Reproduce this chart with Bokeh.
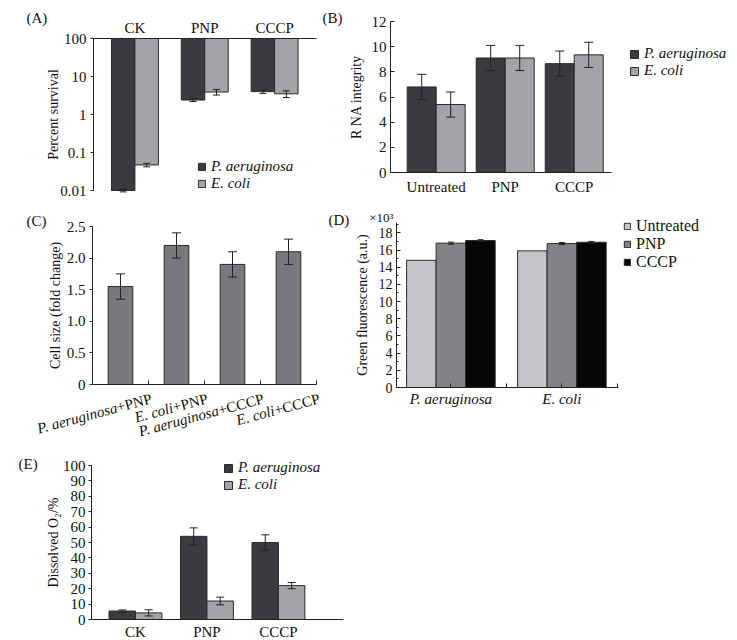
import math
from bokeh.plotting import figure
from bokeh.models import (ColumnDataSource, Whisker, TeeHead, Legend, LegendItem, Label,
                          FixedTicker, Range1d)
from bokeh.layouts import column, row
from bokeh.transform import dodge
from bokeh.embed import file_html
from bokeh.resources import INLINE

FONT = "Liberation Serif"

# ---------------- data ----------------
species = ["P. aeruginosa", "E. coli"]

# (A) percent survival (log)
a_groups = ["CK", "PNP", "CCCP"]
a_pae = [0.010, 2.4, 4.0]
a_pae_err = [0.0008, 0.2, 0.4]
a_eco = [0.047, 3.9, 3.5]
a_eco_err = [0.005, 0.65, 0.7]
a_ticks = [0.01, 0.1, 1, 10, 100]
a_tick_labels = ["0.01", "0.1", "1", "10", "100"]

# (B) RNA integrity
b_groups = ["Untreated", "PNP", "CCCP"]
b_pae = [6.8, 9.1, 8.65]
b_pae_err = [1.0, 1.0, 1.0]
b_eco = [5.4, 9.1, 9.35]
b_eco_err = [1.0, 1.0, 1.0]
b_ticks = [0, 2, 4, 6, 8, 10, 12]

# (C) cell size
c_species = ["P. aeruginosa", "E. coli", "P. aeruginosa", "E. coli"]
c_treat = ["+PNP", "+PNP", "+CCCP", "+CCCP"]
c_vals = [1.55, 2.2, 1.9, 2.1]
c_err = [0.2, 0.2, 0.2, 0.2]
c_ticks = [0, 0.5, 1.0, 1.5, 2.0, 2.5]
c_tick_labels = ["0", "0.5", "1.0", "1.5", "2.0", "2.5"]

# (D) green fluorescence (x10^3)
d_groups = ["P. aeruginosa", "E. coli"]
d_treat = ["Untreated", "PNP", "CCCP"]
d_untreated = [14.8, 15.9]
d_pnp = [16.8, 16.75]
d_pnp_err = [0.12, 0.12]
d_cccp = [17.1, 16.9]
d_cccp_err = [0.1, 0.1]
d_ticks = [0, 2, 4, 6, 8, 10, 12, 14, 16, 18]
d_minor = [1, 3, 5, 7, 9, 11, 13, 15, 17, 19]
d_top = 19.2

# (E) dissolved O2
e_groups = ["CK", "PNP", "CCCP"]
e_pae = [5.5, 54.0, 50.0]
e_pae_err = [0.7, 5.5, 5.0]
e_eco = [4.3, 12.0, 22.0]
e_eco_err = [2.0, 2.5, 2.0]
e_ticks = list(range(0, 101, 10))

# ---------------- style ----------------
DARK = "#3b3b3f"
LIGHT = "#a4a4a8"
EDGE = "#2a2a2a"
INK = "#111111"


def ext(lo, hi, a, b, total, log=False):
    """Extend a data interval [lo, hi] drawn between pixels a..b to the full 0..total."""
    if log:
        lo, hi = math.log10(lo), math.log10(hi)
    s = (hi - lo) / (b - a)
    start, end = lo - a * s, hi + (total - b) * s
    if log:
        return 10 ** start, 10 ** end
    return start, end


def make_fig(w, h, box, xlim, ylim, ytype="linear", xloc="below"):
    """box = (left, top, right, bottom) of the axis box in figure pixels."""
    l, t, r, b = box
    xs, xe = ext(xlim[0], xlim[1], l, r, w)
    ys, ye = ext(ylim[0], ylim[1], h - b, h - t, h, ytype == "log")
    p = figure(width=w, height=h, x_range=Range1d(xs, xe), y_range=Range1d(ys, ye),
               y_axis_type=ytype, x_axis_location=xloc, output_backend="svg",
               toolbar_location=None, min_border=0, min_border_left=0,
               min_border_right=0, min_border_top=0, min_border_bottom=0)
    p.outline_line_color = None
    p.xgrid.visible = False
    p.ygrid.visible = False
    for ax in p.axis:
        ax.major_label_text_font = FONT
        ax.major_label_text_font_size = "15px"
        ax.major_label_text_color = INK
        ax.axis_label_text_font = FONT
        ax.axis_label_text_font_size = "14px"
        ax.axis_label_text_font_style = "normal"
        ax.axis_label_text_color = INK
        ax.axis_line_color = "#222222"
        ax.major_tick_line_color = "#222222"
        ax.minor_tick_line_color = "#222222"
        ax.minor_tick_out = 0
        ax.minor_tick_in = 0
    p.xaxis.fixed_location = ylim[1] if xloc == "above" else ylim[0]
    p.xaxis.bounds = (xlim[0], xlim[1])
    p.yaxis.fixed_location = xlim[0]
    p.yaxis.bounds = (ylim[0], ylim[1])
    return p


def whisk(p, src, base, lo, hi, size=8):
    w = Whisker(source=src, base=base, lower=lo, upper=hi, line_color="#222222",
                line_width=1, level="overlay",
                lower_head=TeeHead(size=size, line_color="#222222", line_width=1),
                upper_head=TeeHead(size=size, line_color="#222222", line_width=1))
    p.add_layout(w)


def legend(p, renderers, labels, loc, gw, gh, lh, size, style):
    items = [LegendItem(label=lab, renderers=[r]) for lab, r in zip(labels, renderers)]
    lg = Legend(items=items, location=loc, orientation="vertical", glyph_width=gw,
                glyph_height=gh, label_height=lh, label_width=10, spacing=0, padding=0,
                margin=0, border_line_color=None, background_fill_alpha=0,
                label_text_font=FONT, label_text_font_size=size,
                label_text_font_style=style, label_standoff=5, label_text_color=INK)
    p.add_layout(lg)


def panel_label(p, text, x, y, dx, dy):
    p.add_layout(Label(x=x, y=y, x_offset=dx, y_offset=dy, text=text,
                       text_font=FONT, text_font_size="15px", text_align="left",
                       text_baseline="middle", text_color=INK))


def err_cols(prefix, vals, errs):
    return {prefix + "_lo": [v - e for v, e in zip(vals, errs)],
            prefix + "_hi": [v + e for v, e in zip(vals, errs)]}


# ---------------- (A) ----------------
axl = (-0.593, 2.6)
ayl = (a_ticks[0], a_ticks[-1])
pA = make_fig(318, 208, (93, 38, 316, 190), axl, ayl, "log", "above")
srcA = ColumnDataSource(dict(x=list(range(len(a_groups))),
                             top=[a_ticks[-1]] * len(a_groups), pae=a_pae, eco=a_eco,
                             **err_cols("pae", a_pae, a_pae_err),
                             **err_cols("eco", a_eco, a_eco_err)))
bwA = 0.336
rA1 = pA.vbar(x=dodge("x", -bwA / 2), width=bwA, top="top", bottom="pae", source=srcA,
              fill_color=DARK, line_color=EDGE)
rA2 = pA.vbar(x=dodge("x", bwA / 2), width=bwA, top="top", bottom="eco", source=srcA,
              fill_color=LIGHT, line_color=EDGE)
whisk(pA, srcA, dodge("x", -bwA / 2), "pae_lo", "pae_hi", 7)
whisk(pA, srcA, dodge("x", bwA / 2), "eco_lo", "eco_hi", 7)
pA.xaxis.ticker = FixedTicker(ticks=list(range(len(a_groups))))
pA.xaxis.major_label_overrides = {i: g for i, g in enumerate(a_groups)}
pA.xaxis.major_tick_out = 0
pA.xaxis.major_tick_in = 0
pA.xaxis.major_label_standoff = 3
pA.yaxis.ticker = FixedTicker(ticks=a_ticks)
pA.yaxis.major_label_overrides = dict(zip(a_ticks, a_tick_labels))
pA.yaxis.major_tick_out = 3
pA.yaxis.major_tick_in = 0
pA.yaxis.major_label_standoff = 4
pA.yaxis.axis_label = "Percent survival"
pA.yaxis.axis_label_standoff = -4
legend(pA, [rA1, rA2], species, (197, 16), 9, 9, 14, "15px", "italic")
panel_label(pA, "(A)", axl[0], ayl[1], -67, 21)

# ---------------- (B) ----------------
bxl = (-0.662, 2.54)
byl = (b_ticks[0], b_ticks[-1])
pB = make_fig(411, 208, (72, 21, 293, 172), bxl, byl)
srcB = ColumnDataSource(dict(x=list(range(len(b_groups))), pae=b_pae, eco=b_eco,
                             **err_cols("pae", b_pae, b_pae_err),
                             **err_cols("eco", b_eco, b_eco_err)))
bwB = 0.42
rB1 = pB.vbar(x=dodge("x", -bwB / 2), width=bwB, top="pae", source=srcB,
              fill_color=DARK, line_color=EDGE)
rB2 = pB.vbar(x=dodge("x", bwB / 2), width=bwB, top="eco", source=srcB,
              fill_color=LIGHT, line_color=EDGE)
whisk(pB, srcB, dodge("x", -bwB / 2), "pae_lo", "pae_hi", 9)
whisk(pB, srcB, dodge("x", bwB / 2), "eco_lo", "eco_hi", 9)
pB.xaxis.ticker = FixedTicker(ticks=list(range(len(b_groups))))
pB.xaxis.major_label_overrides = {i: g for i, g in enumerate(b_groups)}
pB.xaxis.major_tick_out = 0
pB.xaxis.major_tick_in = 0
pB.xaxis.major_label_standoff = 6
pB.yaxis.ticker = FixedTicker(ticks=b_ticks)
pB.yaxis.major_tick_out = 0
pB.yaxis.major_tick_in = 4
pB.yaxis.major_label_standoff = 4
pB.yaxis.axis_label = "R NA integrity"
pB.yaxis.axis_label_standoff = 5
legend(pB, [rB1, rB2], species, (311, 129), 10, 10, 15, "15px", "italic")
panel_label(pB, "(B)", bxl[0], byl[1], -68, 4)

# ---------------- (C) ----------------
cxl = (-0.5, len(c_vals) - 0.5)
cyl = (c_ticks[0], c_ticks[-1])
pC = make_fig(326, 230, (92, 18, 316, 176), cxl, cyl)
srcC = ColumnDataSource(dict(x=list(range(len(c_vals))), v=c_vals,
                             **err_cols("v", c_vals, c_err)))
pC.vbar(x="x", width=0.44, top="v", source=srcC, fill_color="#78787d", line_color=EDGE)
whisk(pC, srcC, "x", "v_lo", "v_hi", 9)
pC.xaxis.ticker = FixedTicker(ticks=[], minor_ticks=[i + 0.5 for i in range(len(c_vals))])
pC.xaxis.minor_tick_in = 4
pC.xaxis.major_tick_out = 0
pC.yaxis.ticker = FixedTicker(ticks=c_ticks)
pC.yaxis.major_label_overrides = dict(zip(c_ticks, c_tick_labels))
pC.yaxis.major_tick_out = 3
pC.yaxis.major_tick_in = 0
pC.yaxis.major_label_standoff = 4
pC.yaxis.axis_label = "Cell size (fold change)"
pC.yaxis.axis_label_standoff = 1
ang = math.radians(15)
EM = {"+": 0.564, "P": 0.556, "N": 0.722, "C": 0.667}
for i, (sp, tr) in enumerate(zip(c_species, c_treat)):
    w = sum(EM.get(ch, 0.5) for ch in tr) * 15
    pC.add_layout(Label(x=i, y=0, x_offset=29, y_offset=-6, text=tr, angle=ang,
                        text_align="right", text_baseline="top", text_font=FONT,
                        text_font_size="15px", text_color=INK))
    pC.add_layout(Label(x=i, y=0, x_offset=29 - w * math.cos(ang),
                        y_offset=-6 - w * math.sin(ang), text=sp, angle=ang,
                        text_align="right", text_baseline="top", text_font=FONT,
                        text_font_size="15px", text_font_style="italic",
                        text_color=INK))
panel_label(pC, "(C)", cxl[0], cyl[1], -66, 6)

# ---------------- (D) ----------------
dxl = (-0.49, 1.51)
dyl = (0, d_top)
pD = make_fig(403, 230, (70, 14, 292, 179), dxl, dyl)
srcD = ColumnDataSource(dict(x=list(range(len(d_groups))), u=d_untreated, pnp=d_pnp,
                             cccp=d_cccp, **err_cols("pnp", d_pnp, d_pnp_err),
                             **err_cols("cccp", d_cccp, d_cccp_err)))
bwD = 0.266
D_COLORS = ["#c4c4c8", "#828287", "#060606"]
rD = []
for off, col, c in zip([-bwD, 0, bwD], ["u", "pnp", "cccp"], D_COLORS):
    rD.append(pD.vbar(x=dodge("x", off), width=bwD, top=col, source=srcD, fill_color=c,
                      line_color=EDGE))
whisk(pD, srcD, dodge("x", 0), "pnp_lo", "pnp_hi", 6)
whisk(pD, srcD, dodge("x", bwD), "cccp_lo", "cccp_hi", 6)
pD.xaxis.ticker = FixedTicker(ticks=list(range(len(d_groups))),
                              minor_ticks=[i + 0.5 for i in range(len(d_groups))])
pD.xaxis.major_label_overrides = {i: g for i, g in enumerate(d_groups)}
pD.xaxis.major_label_text_font_style = "italic"
pD.xaxis.major_tick_out = 0
pD.xaxis.major_tick_in = 4
pD.xaxis.minor_tick_in = 4
pD.xaxis.major_label_standoff = 3
pD.yaxis.ticker = FixedTicker(ticks=d_ticks, minor_ticks=d_minor)
pD.yaxis.major_label_text_font_size = "14px"
pD.yaxis.major_tick_out = 0
pD.yaxis.major_tick_in = 4
pD.yaxis.minor_tick_in = 2
pD.yaxis.major_label_standoff = 4
pD.yaxis.axis_label = "Green fluorescence (a.u.)"
pD.yaxis.axis_label_standoff = 6
legend(pD, rD, d_treat, (297, 167), 8, 8, 17, "16px", "normal")
pD.add_layout(Label(x=dxl[0], y=dyl[1], x_offset=-3, y_offset=-2, text="×10³",
                    text_font=FONT, text_font_size="13px", text_align="right",
                    text_baseline="bottom", text_color=INK))
panel_label(pD, "(D)", dxl[0], dyl[1], -68, 3)

# ---------------- (E) ----------------
exl = (-0.615, 2.91)
eyl = (e_ticks[0], e_ticks[-1])
pE = make_fig(350, 200, (91, 27, 343, 181), exl, eyl)
srcE = ColumnDataSource(dict(x=list(range(len(e_groups))), pae=e_pae, eco=e_eco,
                             **err_cols("pae", e_pae, e_pae_err),
                             **err_cols("eco", e_eco, e_eco_err)))
bwE = 0.37
rE1 = pE.vbar(x=dodge("x", -bwE / 2), width=bwE, top="pae", source=srcE,
              fill_color=DARK, line_color=EDGE)
rE2 = pE.vbar(x=dodge("x", bwE / 2), width=bwE, top="eco", source=srcE,
              fill_color=LIGHT, line_color=EDGE)
whisk(pE, srcE, dodge("x", -bwE / 2), "pae_lo", "pae_hi", 8)
whisk(pE, srcE, dodge("x", bwE / 2), "eco_lo", "eco_hi", 8)
pE.xaxis.ticker = FixedTicker(ticks=list(range(len(e_groups))))
pE.xaxis.major_label_overrides = {i: g for i, g in enumerate(e_groups)}
pE.xaxis.major_tick_out = 0
pE.xaxis.major_tick_in = 0
pE.xaxis.major_label_standoff = 4
pE.yaxis.ticker = FixedTicker(ticks=e_ticks)
pE.yaxis.major_tick_out = 3
pE.yaxis.major_tick_in = 0
pE.yaxis.major_label_standoff = 3
pE.yaxis.axis_label = "Dissolved O₂/%"
pE.yaxis.axis_label_standoff = -1
legend(pE, [rE1, rE2], species, (223, 145), 10, 10, 15, "15px", "italic")
panel_label(pE, "(E)", exl[0], eyl[1], -73, 2)

layout = column(row(pA, pB), row(pC, pD), row(pE))
open("out.html", "w").write(file_html(layout, INLINE))
